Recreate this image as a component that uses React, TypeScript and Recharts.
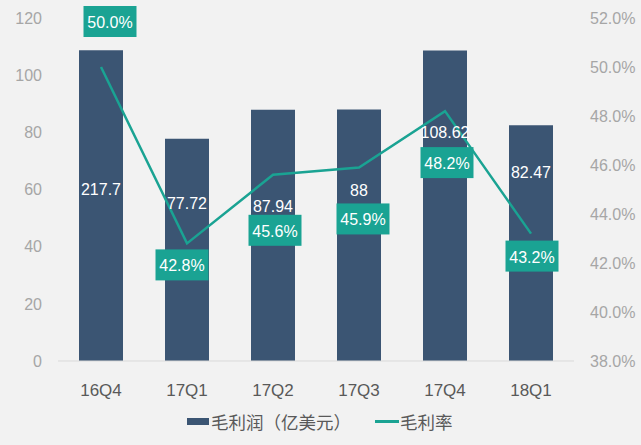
import React from "react";
import {
  ComposedChart,
  Bar,
  Line,
  XAxis,
  YAxis,
  Legend,
  LabelList,
} from "recharts";

// data
const quarters = ["16Q4", "17Q1", "17Q2", "17Q3", "17Q4", "18Q1"];
const grossProfit = [108.7, 77.72, 87.94, 88, 108.62, 82.47];
const grossProfitLabels = ["217.7", "77.72", "87.94", "88", "108.62", "82.47"];
const grossMargin = [50.0, 42.8, 45.6, 45.9, 48.2, 43.2];
const profitTicks = [0, 20, 40, 60, 80, 100, 120];
const marginTicks = [38, 40, 42, 44, 46, 48, 50, 52];

// label nudges (hand placed in the original)
const barLabelDy = [139, 65, 97, 81, 82, 47];
const boxDx = [9, -5, 2, 4, 2, 1];
const boxDy = [-61, 6, 40, 36, 36, 7];

const BAR = "#3b5573";
const TEAL = "#1aa393";
const FONT = "'Liberation Sans', Arial, 'Noto Sans CJK SC', sans-serif";

const data = quarters.map((q, i) => ({
  name: q,
  profit: grossProfit[i],
  margin: grossMargin[i],
}));

const BarValue = (props: any) => {
  const { x, y, width, index } = props;
  return (
    <text
      x={x + width / 2}
      y={y + barLabelDy[index]}
      fill="#ffffff"
      fontSize={16}
      fontFamily={FONT}
      textAnchor="middle"
      dominantBaseline="central"
    >
      {grossProfitLabels[index]}
    </text>
  );
};

const MarginBox = (props: any) => {
  const { x, y, index, value } = props;
  const w = 53;
  const h = 31;
  const cx = x + boxDx[index];
  const top = y + boxDy[index];
  return (
    <g>
      <rect x={cx - w / 2} y={top} width={w} height={h} fill={TEAL} />
      <text
        x={cx}
        y={top + h / 2 + 1}
        fill="#ffffff"
        fontSize={16}
        fontFamily={FONT}
        textAnchor="middle"
        dominantBaseline="central"
      >
        {Number(value).toFixed(1)}%
      </text>
    </g>
  );
};

const LegendBox = () => (
  <div
    style={{
      display: "flex",
      alignItems: "center",
      height: 40,
      marginLeft: 187,
      fontFamily: "'Noto Sans CJK SC', sans-serif",
      fontSize: 17.5,
      color: "#595959",
      whiteSpace: "nowrap",
    }}
  >
    <span style={{ width: 22, height: 7, background: BAR, marginRight: 2 }} />
    <span>毛利润（亿美元）</span>
    <span style={{ width: 24, height: 3, background: TEAL, marginLeft: 24, marginRight: 1 }} />
    <span>毛利率</span>
  </div>
);

export default function App() {
  return (
    <div
      style={{
        position: "absolute",
        left: 0,
        top: 0,
        width: 641,
        height: 445,
        background: "#f2f2f2",
      }}
    >
      <ComposedChart
        width={641}
        height={445}
        data={data}
        margin={{ top: 18, right: 0, bottom: 0, left: 0 }}
      >
        <XAxis
          dataKey="name"
          height={40}
          axisLine={{ stroke: "#d9d9d9" }}
          tickLine={false}
          tickSize={0}
          tickMargin={23}
          tick={{ fill: "#595959", fontSize: 17, fontFamily: FONT }}
        />
        <YAxis
          yAxisId="left"
          width={58}
          domain={[0, 120]}
          ticks={profitTicks}
          axisLine={false}
          tickLine={false}
          tickSize={0}
          tickMargin={16}
          tick={{ fill: "#a6a6a6", fontSize: 16, fontFamily: FONT }}
        />
        <YAxis
          yAxisId="right"
          orientation="right"
          width={67}
          domain={[38, 52]}
          ticks={marginTicks}
          axisLine={false}
          tickLine={false}
          tickSize={0}
          tickMargin={16}
          tickFormatter={(v: number) => v.toFixed(1) + "%"}
          tick={{ fill: "#a6a6a6", fontSize: 16, fontFamily: FONT }}
        />
        <Legend verticalAlign="bottom" height={44} content={<LegendBox />} />
        <Bar
          yAxisId="left"
          dataKey="profit"
          fill={BAR}
          barSize={44}
          isAnimationActive={false}
        >
          <LabelList dataKey="profit" content={<BarValue />} />
        </Bar>
        <Line
          yAxisId="right"
          dataKey="margin"
          stroke={TEAL}
          strokeWidth={2.5}
          dot={false}
          activeDot={false}
          isAnimationActive={false}
        >
          <LabelList dataKey="margin" content={<MarginBox />} />
        </Line>
      </ComposedChart>
    </div>
  );
}
